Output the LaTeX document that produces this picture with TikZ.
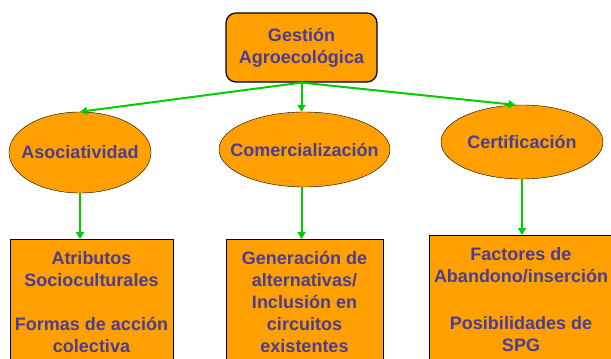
\documentclass[tikz,border=0pt]{standalone}
\usepackage{fontspec}
\setmainfont{Liberation Sans}
\usetikzlibrary{shapes.geometric, arrows.meta}
\definecolor{naranja}{RGB}{255,160,0}
\definecolor{verde}{RGB}{0,204,0}
\definecolor{letra}{RGB}{75,60,150}

\begin{document}
\begin{tikzpicture}[x=1pt, y=-1pt,
  caja/.style={draw=black, fill=naranja, text=letra, align=center,
    font=\bfseries\fontsize{18}{22}\selectfont},
  elipse/.style={caja, ellipse, inner sep=0pt},
  bloque/.style={caja, anchor=north, inner ysep=12pt},
  flecha/.style={draw=verde, line width=2pt, -{Triangle[length=7pt, width=8pt]}}]
  \useasboundingbox (0,0) rectangle (611,359);
  \clip (0,0) rectangle (611,359);

  \node[caja, rounded corners=10pt, line width=1.2pt, minimum width=151pt, minimum height=69pt]
    (gestion) at (301.5,47.5) {Gestión\\Agroecológica};

  \node[elipse, minimum width=142pt, minimum height=81pt] (asoc) at (80,152.5)
    {\makebox[0pt]{Asociatividad}};
  \node[elipse, minimum width=171pt, minimum height=75pt] (comer) at (304.5,149.5)
    {\makebox[0pt]{Comercialización}};
  \node[elipse, minimum width=162pt, minimum height=74pt] (cert) at (522,142)
    {\makebox[0pt]{Certificación}};

  \node[bloque, minimum width=163pt] (atrib) at (91.5,239)
    {Atributos\\Socioculturales\\[22pt]Formas de acción\\colectiva};
  \node[bloque, minimum width=157pt] (gener) at (304.5,239)
    {Generación de\\alternativas/\\Inclusión en\\circuitos\\existentes};
  \node[bloque, minimum width=184pt] (factor) at (521,235)
    {Factores de\\Abandono/inserción\\[25pt]Posibilidades de\\SPG};

  \draw[flecha] (gestion.south) -- (asoc.north);
  \draw[flecha] (gestion.south) -- (gestion.south |- comer.north);
  \draw[flecha] (gestion.south) -- (cert.100);

  \draw[flecha] (asoc.south) -- (asoc.south |- atrib.north);
  \draw[flecha] (gestion.south |- comer.south) -- (gestion.south |- gener.north);
  \draw[flecha] (cert.south) -- (cert.south |- factor.north);
\end{tikzpicture}
\end{document}
